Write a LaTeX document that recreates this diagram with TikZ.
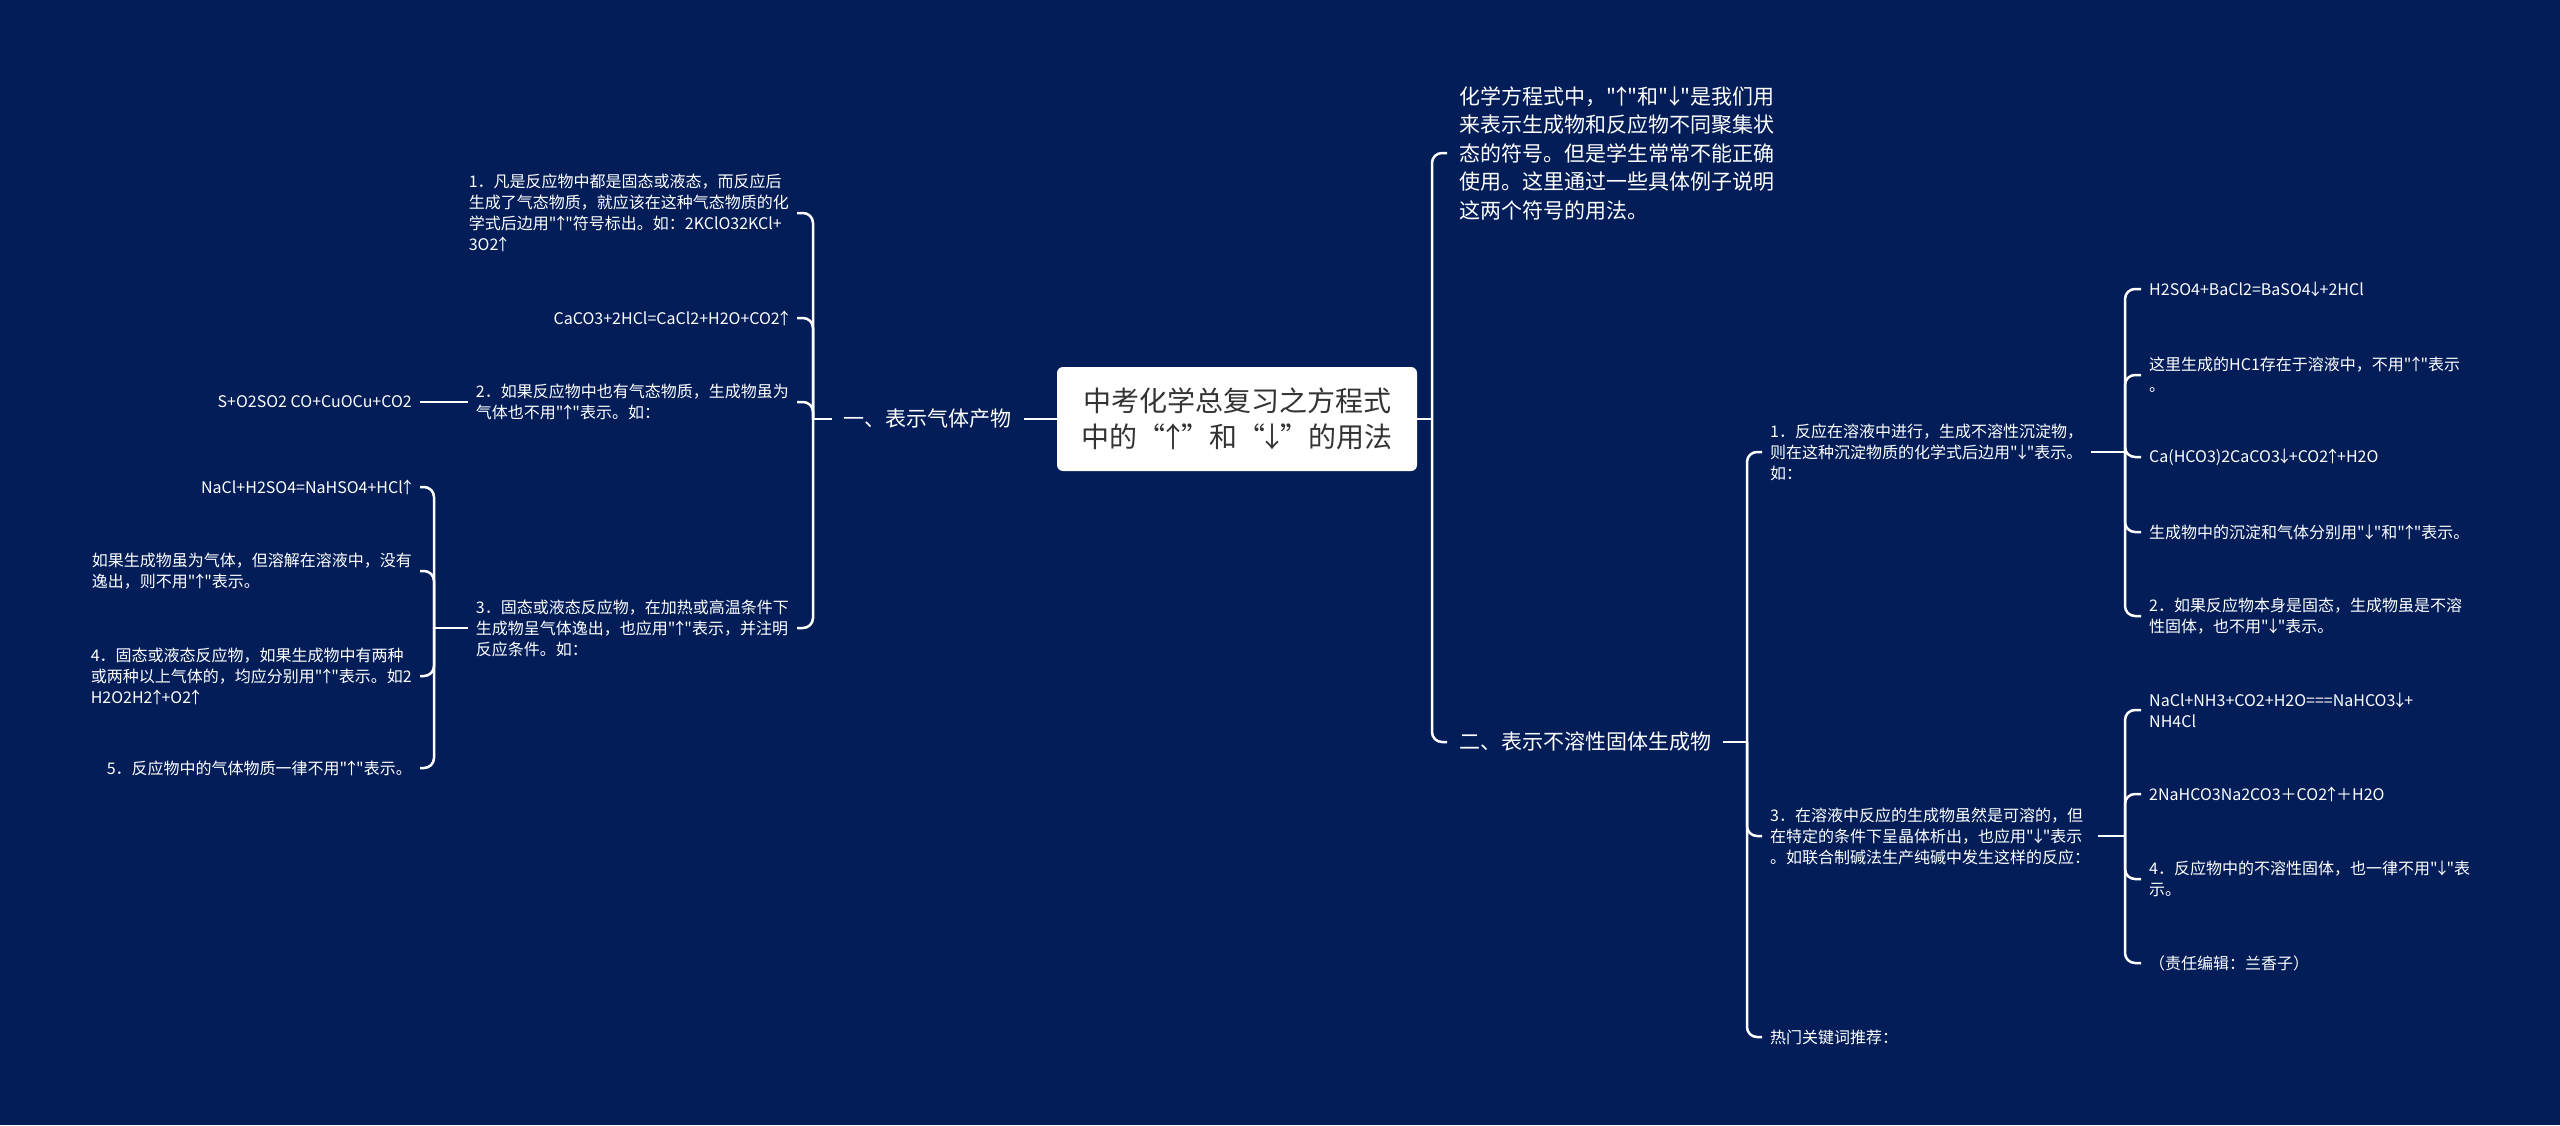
\documentclass[tikz,border=0pt]{standalone}
\usepackage{fontspec}
\newfontfamily\cjk{Noto Sans CJK SC}
\newcommand\arrUp{\kern-0.22em↑\kern-0.22em}
\newcommand\arrDown{\kern-0.22em↓\kern-0.22em}
\usepackage{tikz}
\definecolor{mapBg}{RGB}{3,29,89}
\definecolor{rootText}{RGB}{51,51,51}

\begin{document}
\begin{tikzpicture}[
        x=1pt, y=-1pt,
        rootNode/.style={rectangle, fill=white, rounded corners=6pt, align=center, minimum width=360pt, minimum height=104pt, text=rootText, font=\cjk\fontsize{28pt}{36pt}\selectfont},
        branchNode/.style={align=left, text=white, inner xsep=12pt, inner ysep=2pt, font=\cjk\fontsize{21pt}{28.5pt}\selectfont},
        leafNode/.style={align=left, text=white, inner xsep=8pt, inner ysep=2pt, font=\cjk\fontsize{16pt}{21pt}\selectfont},
        link/.style={draw=white, line width=2.5pt, rounded corners=10pt}
    ]
        \fill[mapBg] (0,0) rectangle (2560,1125);
        \useasboundingbox (0,0) rectangle (2560,1125);

        \node[rootNode] (root) at (1237,419) {中考化学总复习之方程式\\中的“\arrUp”和“\arrDown”的用法};

        % left half
        \node[branchNode, anchor=east] (gasBranch) at (1024,419) {一、表示气体产物};
        \node[leafNode, anchor=east] (gasRule1) at (797,213) {1．凡是反应物中都是固态或液态，而反应后\\生成了气态物质，就应该在这种气态物质的化\\学式后边用"\arrUp"符号标出。如：2KClO32KCl+\\3O2\arrUp};
        \node[leafNode, anchor=east] (gasEq1) at (797,318) {CaCO3+2HCl=CaCl2+H2O+CO2\arrUp};
        \node[leafNode, anchor=east] (gasRule2) at (797,402) {2．如果反应物中也有气态物质，生成物虽为\\气体也不用"\arrUp"表示。如：};
        \node[leafNode, anchor=east] (gasRule3) at (797,628) {3．固态或液态反应物，在加热或高温条件下\\生成物呈气体逸出，也应用"\arrUp"表示，并注明\\反应条件。如：};
        \node[leafNode, anchor=east] (gasEq2) at (420,402) {S+O2SO2 CO+CuOCu+CO2};
        \node[leafNode, anchor=east] (gasEq3) at (420,487) {NaCl+H2SO4=NaHSO4+HCl\arrUp};
        \node[leafNode, anchor=east] (gasNote) at (420,571) {如果生成物虽为气体，但溶解在溶液中，没有\\逸出，则不用"\arrUp"表示。};
        \node[leafNode, anchor=east] (gasRule4) at (420,676) {4．固态或液态反应物，如果生成物中有两种\\或两种以上气体的，均应分别用"\arrUp"表示。如2\\H2O2H2\arrUp+O2\arrUp};
        \node[leafNode, anchor=east] (gasRule5) at (420,768) {5．反应物中的气体物质一律不用"\arrUp"表示。};

        % right half
        \node[branchNode, anchor=west] (intro) at (1447,153) {化学方程式中，"\arrUp"和"\arrDown"是我们用\\来表示生成物和反应物不同聚集状\\态的符号。但是学生常常不能正确\\使用。这里通过一些具体例子说明\\这两个符号的用法。};
        \node[branchNode, anchor=west] (solidBranch) at (1447,742) {二、表示不溶性固体生成物};
        \node[leafNode, anchor=west] (solidRule1) at (1762,452) {1．反应在溶液中进行，生成不溶性沉淀物，\\则在这种沉淀物质的化学式后边用"\arrDown"表示。\\如：};
        \node[leafNode, anchor=west] (solidRule3) at (1762,836) {3．在溶液中反应的生成物虽然是可溶的，但\\在特定的条件下呈晶体析出，也应用"\arrDown"表示\\。如联合制碱法生产纯碱中发生这样的反应：};
        \node[leafNode, anchor=west] (hotWords) at (1762,1037) {热门关键词推荐：};
        \node[leafNode, anchor=west] (solidEq1) at (2141,289) {H2SO4+BaCl2=BaSO4\arrDown+2HCl};
        \node[leafNode, anchor=west] (solidNote1) at (2141,375) {这里生成的HC1存在于溶液中，不用"\arrUp"表示\\。};
        \node[leafNode, anchor=west] (solidEq2) at (2141,457) {Ca(HCO3)2CaCO3\arrDown+CO2\arrUp+H2O};
        \node[leafNode, anchor=west] (solidNote2) at (2141,532) {生成物中的沉淀和气体分别用"\arrDown"和"\arrUp"表示。};
        \node[leafNode, anchor=west] (solidRule2) at (2141,616) {2．如果反应物本身是固态，生成物虽是不溶\\性固体，也不用"\arrDown"表示。};
        \node[leafNode, anchor=west] (solidEq3) at (2141,710) {NaCl+NH3+CO2+H2O===NaHCO3\arrDown+\\NH4Cl};
        \node[leafNode, anchor=west] (solidEq4) at (2141,794) {2NaHCO3Na2CO3＋CO2\arrUp＋H2O};
        \node[leafNode, anchor=west] (solidRule4) at (2141,879) {4．反应物中的不溶性固体，也一律不用"\arrDown"表\\示。};
        \node[leafNode, anchor=west] (editor) at (2141,963) {（责任编辑：兰香子）};

        \coordinate (gasJoin) at (813,419);
        \coordinate (rule3Join) at (434,628);
        \coordinate (rootJoin) at (1432,419);
        \coordinate (solidJoin) at (1747,742);
        \coordinate (rule1Join) at (2125,452);
        \coordinate (rule3bJoin) at (2125,836);

        \draw[link] (root.west) -- (gasBranch.east);
        \draw[link] (gasBranch.west) -- (gasJoin);
        \foreach \kid in {gasRule1, gasEq1, gasRule2, gasRule3}
            \draw[link] (gasJoin) |- (\kid.east);
        \draw[link] (gasRule2.west) -- (gasEq2.east);
        \draw[link] (gasRule3.west) -- (rule3Join);
        \foreach \kid in {gasEq3, gasNote, gasRule4, gasRule5}
            \draw[link] (rule3Join) |- (\kid.east);

        \draw[link] (root.east) -- (rootJoin);
        \draw[link] (rootJoin) |- (intro.west);
        \draw[link] (rootJoin) |- (solidBranch.west);
        \draw[link] (solidBranch.east) -- (solidJoin);
        \foreach \kid in {solidRule1, solidRule3, hotWords}
            \draw[link] (solidJoin) |- (\kid.west);
        \draw[link] (solidRule1.east) -- (rule1Join);
        \foreach \kid in {solidEq1, solidNote1, solidEq2, solidNote2, solidRule2}
            \draw[link] (rule1Join) |- (\kid.west);
        \draw[link] (solidRule3.east) -- (rule3bJoin);
        \foreach \kid in {solidEq3, solidEq4, solidRule4, editor}
            \draw[link] (rule3bJoin) |- (\kid.west);
    \end{tikzpicture}
\end{document}
